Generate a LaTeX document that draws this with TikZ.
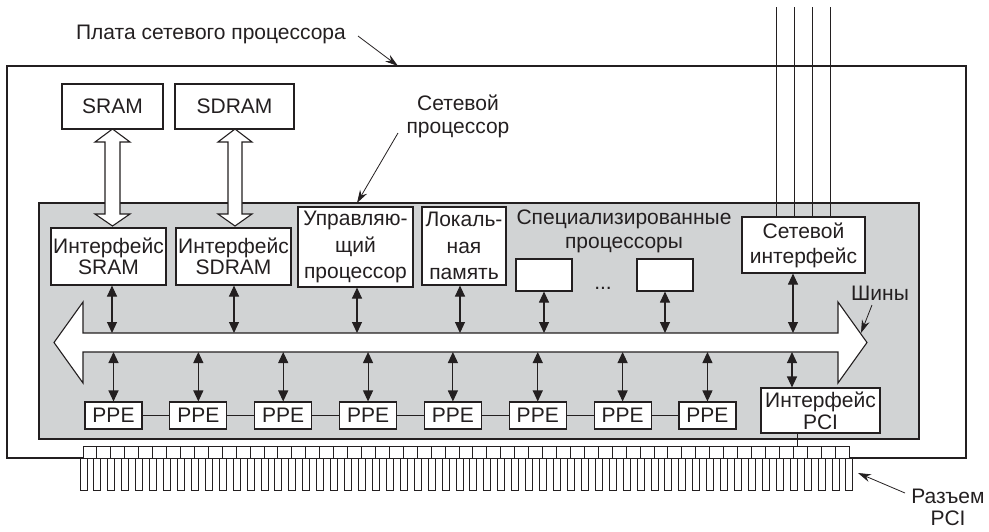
\documentclass[tikz,border=0pt]{standalone}
\usepackage{fontspec}
\setmainfont{Liberation Sans}
\usetikzlibrary{arrows.meta}
\definecolor{chipgray}{RGB}{209,211,212}
\definecolor{ink}{RGB}{35,31,32}
\begin{document}
\begin{tikzpicture}[x=1pt,y=-1pt,
  every node/.style={font=\fontsize{21}{23}\selectfont, text=ink},
  box/.style={draw=ink, line width=1.1pt, fill=white, inner sep=0pt, align=center},
  ppe/.style={box, minimum width=57pt, minimum height=27pt},
  dbl/.style={draw=ink, line width=1.1pt, {Triangle[width=10pt,length=11pt]}-{Triangle[width=10pt,length=11pt]}},
  lbl/.style={draw=ink, line width=0.8pt, -{Stealth[width=8pt,length=13pt]}},
  thin/.style={draw=ink, line width=1pt},
  hollow/.style={draw=ink, line width=1.1pt, fill=white, line join=miter}]
\useasboundingbox (0,0) rectangle (989,531);

% board
\draw[thin, line width=1.2pt] (7,66) rectangle (966,458);

% chip
\draw[draw=ink, fill=chipgray, line width=2pt] (39,203) rectangle (919,439);

% network lines
\foreach \x/\n in {776/a,794/b,812/c,830/d} {
  \coordinate (net\n) at (\x,7);
}

% memory boxes
\node[box, minimum width=101pt, minimum height=45pt] (sram) at (112.5,106.5) {SRAM};
\node[box, minimum width=119pt, minimum height=45pt] (sdram) at (234.5,106.5) {SDRAM};

% chip blocks
\node[box, minimum width=115pt, minimum height=57pt, font=\fontsize{21}{21}\selectfont] (isram) at (108.5,256.5) {Интерфейс\\SRAM};
\node[box, minimum width=115pt, minimum height=57pt, font=\fontsize{21}{21}\selectfont] (isdram) at (233.5,256.5) {Интерфейс\\SDRAM};
\node[box, minimum width=115pt, minimum height=80pt, font=\fontsize{21}{26.5}\selectfont] (cpu) at (355.5,247) {Управляю-\\щий\\процессор};
\node[box, minimum width=84pt, minimum height=78pt, font=\fontsize{21}{26.5}\selectfont] (lmem) at (464,246) {Локаль-\\ная\\память};
\node[box, minimum width=56pt, minimum height=32pt] (sp1) at (544,275) {};
\node[box, minimum width=56pt, minimum height=32pt] (sp2) at (665,275) {};
\node[box, minimum width=123pt, minimum height=56pt, font=\fontsize{21}{25}\selectfont] (netif) at (803.5,245) {Сетевой\\интерфейс};
\node[box, minimum width=119pt, minimum height=45pt, font=\fontsize{21}{22}\selectfont] (pci) at (820.5,410.5) {Интерфейс\\PCI};

\foreach \i in {1,...,8} {
  \node[ppe] (ppe\i) at ({113.5+84.85*(\i-1)},415.5) {PPE};
}
\foreach \i [evaluate=\i as \j using int(\i+1)] in {1,...,7} {
  \draw[thin] (ppe\i.east) -- (ppe\j.west);
}

% network lines drawn to interface
\foreach \n in {a,b,c,d} {
  \draw[thin] (net\n) -- (net\n |- netif.north);
}

% hollow memory arrows
\foreach \c/\h/\s in {112.5/17.5/7.5, 235/17/7} {
  \draw[hollow] (\c,129) -- (\c+\h,142) -- (\c+\s,142) -- (\c+\s,214) -- (\c+\h,214) -- (\c,226)
     -- (\c-\h,214) -- (\c-\s,214) -- (\c-\s,142) -- (\c-\h,142) -- cycle;
}

% bus
\draw[hollow] (83,333) -- (838,333) -- (838,302) -- (867,342.5) -- (838,383) -- (838,352)
   -- (83,352) -- (83,383) -- (54,342.5) -- (83,302) -- cycle;
\coordinate (bustop) at (0,333);
\coordinate (busbot) at (0,352);

% upper double arrows
\foreach \n/\dx in {isram/3.5, isdram/0.5, cpu/1.5, lmem/-4, sp1/0, sp2/0, netif/-10.5} {
  \draw[dbl] ([xshift=\dx pt]\n.south) -- ([xshift=\dx pt]\n.south |- bustop);
}
% lower double arrows
\foreach \i in {1,...,8} {
  \draw[dbl] (ppe\i.north |- busbot) -- (ppe\i.north);
}
\draw[dbl] ([xshift=-28.5pt]pci.north |- busbot) -- ([xshift=-28.5pt]pci.north);

% connector
\draw[thin, fill=white] (83,446) rectangle (849,458);
\foreach \k in {1,...,54} {
  \draw[thin] ({83+13.927*\k},446) -- ({83+13.927*\k},458);
}
\foreach \k in {0,...,55} {
  \draw[thin, fill=white] ({83+13.927*\k-3},458) rectangle ({83+13.927*\k+4},490);
}
\coordinate (conntop) at (797,446);
\draw[thin] (pci.south -| conntop) -- (conntop);

% labels
\node (boardlbl) at (211,34) {Плата сетевого процессора};
\coordinate (boardpt) at (398,66);
\draw[lbl] (358,36) -- (boardpt);

\node[align=center] (nplbl) at (458,116.5) {Сетевой\\процессор};
\coordinate (chippt) at (357,203);
\draw[lbl] (398,133) -- (chippt);

\node[align=center, font=\fontsize{21}{24}\selectfont] (spl) at (624,231) {Специализированные\\процессоры};
\node[inner sep=0pt] (dots) at (603,288) {...};

\node (buslbl) at (880,293) {Шины};
\coordinate (buspt) at (861,333);
\draw[lbl] (872,305) -- (buspt);

\node[align=center, inner sep=0pt, anchor=base, font=\fontsize{21}{22}\selectfont] (pcilbl) at (948,525.5) {Разъем\\PCI};
\coordinate (connpt) at (858,473);
\draw[lbl] (905,493) -- (connpt);
\end{tikzpicture}
\end{document}
